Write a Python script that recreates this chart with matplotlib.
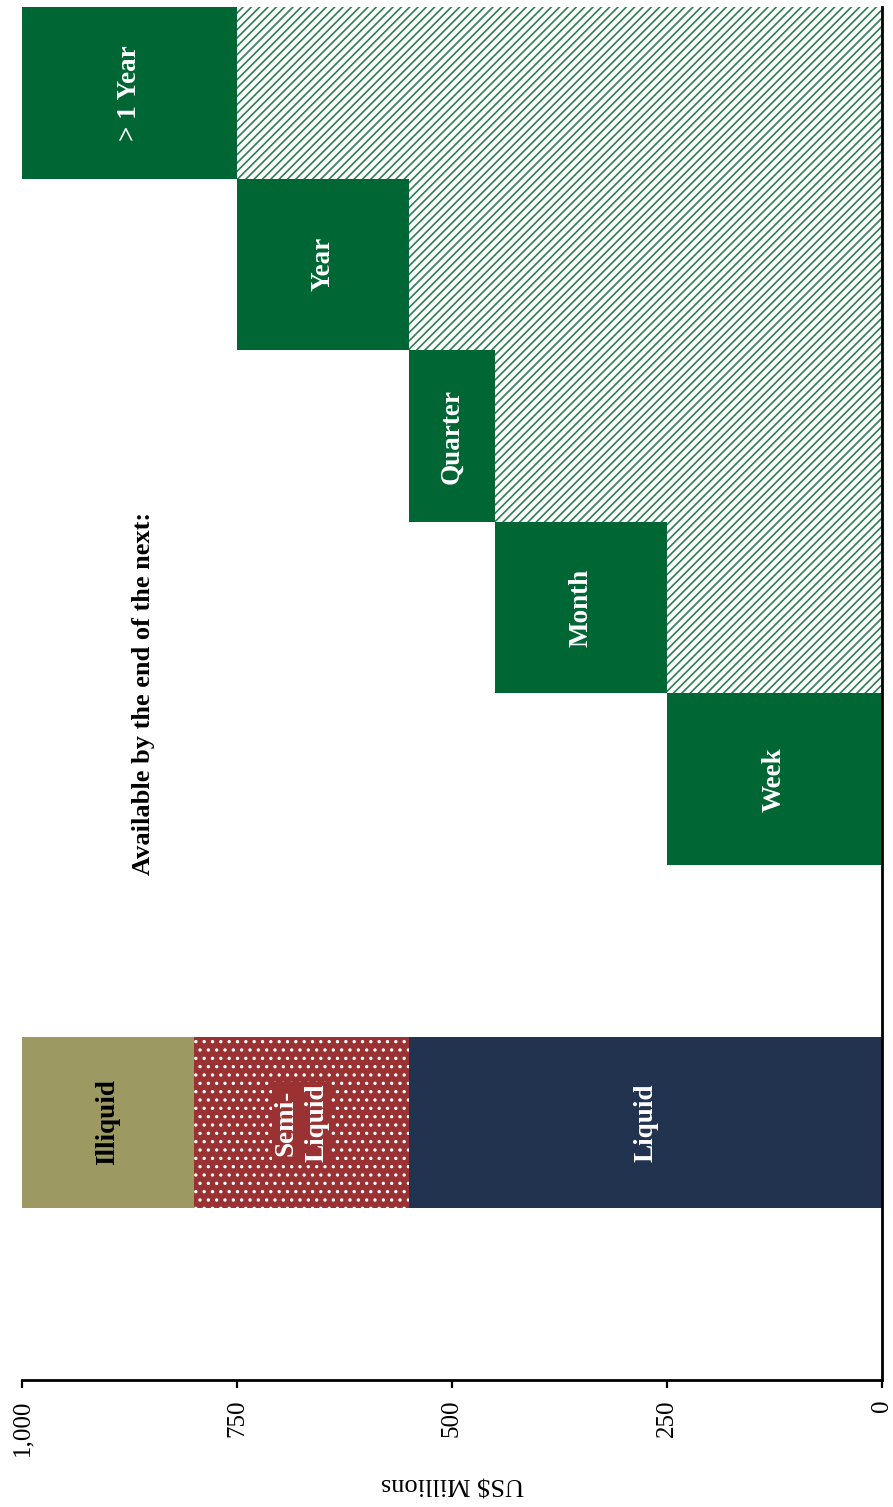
import numpy as np
import matplotlib
matplotlib.use("Agg")
import matplotlib.pyplot as plt

plt.rcParams["font.family"] = ["Liberation Serif", "DejaVu Serif"]
plt.rcParams["hatch.linewidth"] = 1.2

# ── Data (US$ millions) ──────────────────────────────────────────────────────
liquidity_labels = ["Liquid", "Semi-\nLiquid", "Illiquid"]
liquidity_values = [550, 250, 200]
liquidity_colors = ["#22334F", "#9A3234", "#9C9A62"]
liquidity_text = ["white", "white", "black"]

horizon_labels = ["Week", "Month", "Quarter", "Year", "> 1 Year"]
horizon_values = [250, 200, 100, 200, 250]

value_ticks = [0, 250, 500, 750, 1000]

GREEN = "#006633"
HATCH_GREEN = "#2E7D52"

# ── Layout: category slots along y, value along x (reversed) ────────────────
stack_pos = 1.5
horizon_pos = np.arange(len(horizon_labels)) + 3.5

fig = plt.figure(figsize=(8.93, 15.07), dpi=100)
ax = fig.add_axes([0.0246, 0.0843, 0.9631, 0.9111])
ax.set_xlim(1000, 0)
ax.set_ylim(0, 8)

# stacked liquidity bar
lefts = np.concatenate([[0], np.cumsum(liquidity_values)[:-1]])
for lab, val, left, col, tc in zip(liquidity_labels, liquidity_values, lefts,
                                   liquidity_colors, liquidity_text):
    kw = {}
    box = None
    if lab.startswith("Semi"):
        kw = dict(hatch="..", edgecolor="white", linewidth=0)
        box = dict(facecolor=col, edgecolor="none", pad=1)
    ax.barh(stack_pos, val, left=left, height=1.0, color=col, **kw)
    ax.text(left + val / 2, stack_pos, lab, rotation=90, ha="center", va="center",
            color=tc, fontsize=19.5, fontweight="bold", linespacing=1.3, bbox=box)

# waterfall of availability, hatched fill for what is already available
starts = np.concatenate([[0], np.cumsum(horizon_values)[:-1]])
for pos, start in zip(horizon_pos[1:], starts[1:]):
    ax.barh(pos, start, left=0, height=1.0, facecolor="white",
            edgecolor=HATCH_GREEN, hatch="////", linewidth=0)
ax.barh(horizon_pos, horizon_values, left=starts, height=1.0, color=GREEN)
for lab, val, start, pos in zip(horizon_labels, horizon_values, starts, horizon_pos):
    ax.text(start + val / 2, pos, lab, rotation=90, ha="center", va="center",
            color="white", fontsize=19.5, fontweight="bold")

ax.text(859, 4.0, "Available by the end of the next:", rotation=90,
        ha="center", va="center", fontsize=19, fontweight="bold", color="black")

# axes styling
for side in ["top", "left"]:
    ax.spines[side].set_visible(False)
for side in ["bottom", "right"]:
    ax.spines[side].set_linewidth(2.0)
ax.set_yticks([])
ax.set_xticks(value_ticks)
ax.set_xticklabels([f"{v:,}" for v in value_ticks], rotation=90, fontsize=18)
ax.tick_params(axis="x", direction="out", length=6, width=1.6, pad=8)
ax.set_xlabel("US$ Millions", rotation=180, fontsize=19, labelpad=12)

fig.savefig("out.png", dpi=100, facecolor="white")
